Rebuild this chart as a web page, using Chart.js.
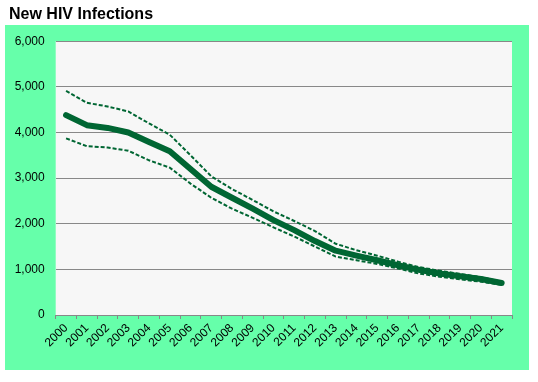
<!DOCTYPE html>
<html>
<head>
<meta charset="utf-8">
<script src="https://cdn.jsdelivr.net/npm/chart.js@4/dist/chart.umd.min.js"></script>
<style>
html,body{margin:0;padding:0;background:#ffffff;}
#wrap{position:relative;width:538px;height:382px;}
</style>
</head>
<body>
<div id="wrap"><canvas id="c" width="538" height="382"></canvas></div>
<script>
const years = ['2000','2001','2002','2003','2004','2005','2006','2007','2008','2009','2010','2011','2012','2013','2014','2015','2016','2017','2018','2019','2020','2021'];
const estimate = [4380,4160,4100,4000,3790,3590,3200,2810,2570,2330,2080,1860,1620,1410,1300,1200,1090,990,910,850,790,700];
const upperBound = [4910,4650,4570,4460,4200,3950,3500,3040,2760,2520,2270,2060,1840,1560,1420,1300,1170,1050,970,900,830,730];
const lowerBound = [3870,3700,3670,3600,3390,3230,2880,2570,2330,2130,1920,1720,1500,1280,1200,1120,1020,910,840,780,730,660];
const yTicks = [0,1000,2000,3000,4000,5000,6000];

const LINE = '#006633';
const bgPlugin = {
  id: 'bg',
  beforeDraw(chart) {
    const ctx = chart.ctx, a = chart.chartArea;
    ctx.save();
    ctx.fillStyle = '#66ffaa';
    ctx.fillRect(5, 25, 524, 345);
    ctx.fillStyle = '#f7f7f7';
    ctx.fillRect(a.left, a.top, a.right - a.left, a.bottom - a.top);
    ctx.restore();
  }
};

new Chart(document.getElementById('c'), {
  type: 'line',
  data: {
    labels: years,
    datasets: [
      {label: 'Upper', data: upperBound, borderColor: LINE, borderWidth: 2, borderDash: [4,2], pointRadius: 0, fill: false, tension: 0},
      {label: 'Lower', data: lowerBound, borderColor: LINE, borderWidth: 2, borderDash: [4,2], pointRadius: 0, fill: false, tension: 0},
      {label: 'New HIV Infections', data: estimate, borderColor: LINE, borderWidth: 6, pointRadius: 0, fill: false, tension: 0, borderCapStyle: 'round', borderJoinStyle: 'round'}
    ]
  },
  options: {
    responsive: false,
    animation: false,
    devicePixelRatio: 1,
    layout: {padding: {left: 9, right: 26, top: 0, bottom: 27}},
    plugins: {
      legend: {display: false},
      tooltip: {enabled: false},
      title: {
        display: true, text: 'New HIV Infections', align: 'start', color: '#000',
        font: {family: 'Liberation Sans, Arial, sans-serif', size: 16, weight: 'bold'},
        padding: {top: 5, bottom: 17}
      }
    },
    scales: {
      x: {
        offset: true,
        grid: {display: true, drawOnChartArea: false, drawTicks: true, tickLength: 4, color: '#888', offset: true},
        border: {display: true, color: '#888', width: 1},
        ticks: {color: '#000', font: {family: 'Liberation Sans, Arial, sans-serif', size: 12}, minRotation: 45, maxRotation: 45, autoSkip: false, padding: 2},
        afterFit(s) { s.height = 40; }
      },
      y: {
        min: 0, max: 6000,
        afterBuildTicks(s) { s.ticks = yTicks.map(v => ({value: v})); },
        grid: {color: '#888', drawTicks: false, lineWidth: 1},
        border: {display: false},
        ticks: {color: '#000', padding: 11, font: {family: 'Liberation Sans, Arial, sans-serif', size: 12},
          callback: v => v.toLocaleString('en-US')},
        afterFit(s) { s.width = 46.7; }
      }
    }
  },
  plugins: [bgPlugin]
});
</script>
</body>
</html>
